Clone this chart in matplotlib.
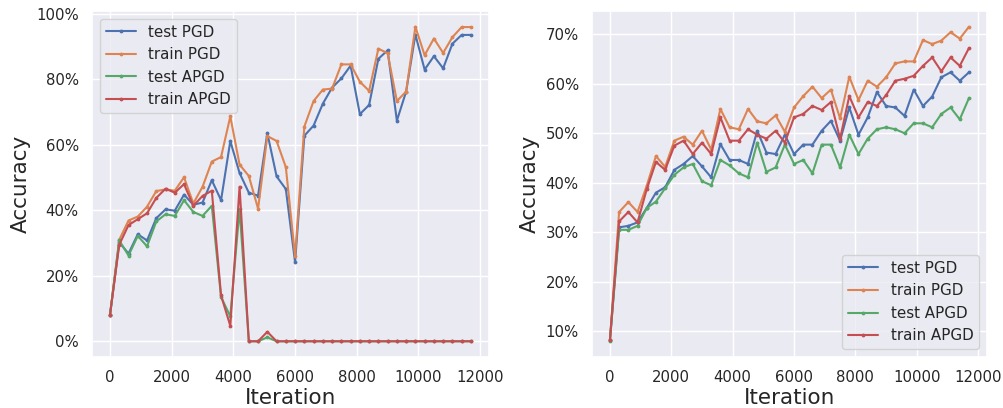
import matplotlib
matplotlib.use("Agg")
import matplotlib.pyplot as plt
import seaborn as sns
from matplotlib.ticker import PercentFormatter

iterations = list(range(0, 12000, 300))
labels = ["test PGD", "train PGD", "test APGD", "train APGD"]

# left panel (accuracy in %)
left_test_pgd = [8.1, 30.2, 26.8, 32.7, 30.8, 37.6, 40.3, 39.9, 44.8, 41.7, 42.4, 49.2, 43.1, 61.2, 51.4,
                 45.4, 44.5, 63.6, 50.4, 46.5, 24.1, 62.8, 65.9, 72.6, 77.5, 80.3, 84.2, 69.4, 72.2,
                 86.3, 88.9, 67.4, 76.3, 93.7, 83.0, 87.1, 83.4, 90.9, 93.6, 93.6]
left_train_pgd = [8.1, 31.0, 36.9, 38.1, 41.1, 45.9, 46.4, 46.0, 50.1, 42.1, 47.2, 54.9, 56.3, 68.7, 54.0,
                  50.5, 40.5, 62.7, 61.2, 53.2, 26.0, 65.6, 73.4, 76.9, 77.2, 84.6, 84.6, 79.3, 76.5,
                  89.4, 88.0, 73.4, 76.3, 96.1, 87.4, 92.5, 88.1, 92.9, 96.0, 96.0]
left_test_apgd = [8.1, 30.8, 26.2, 32.2, 29.0, 36.6, 38.8, 38.3, 43.1, 39.5, 38.3, 41.4, 13.5, 7.6, 40.4,
                  0, 0, 1.2, 0, 0, 0, 0, 0, 0, 0, 0, 0, 0, 0,
                  0, 0, 0, 0, 0, 0, 0, 0, 0, 0, 0]
left_train_apgd = [8.1, 29.5, 35.5, 37.3, 39.1, 43.8, 46.6, 45.4, 48.0, 41.4, 44.4, 46.0, 14.0, 4.7, 47.2,
                   0, 0, 2.9, 0, 0, 0, 0, 0, 0, 0, 0, 0, 0, 0,
                   0, 0, 0, 0, 0, 0, 0, 0, 0, 0, 0]

# right panel (accuracy in %)
right_test_pgd = [8.2, 31.0, 31.3, 32.0, 34.9, 38.0, 39.1, 42.6, 43.8, 45.4, 43.3, 41.1, 47.8, 44.6, 44.6,
                  43.8, 50.5, 46.1, 45.8, 49.7, 45.8, 47.7, 47.7, 50.5, 52.5, 48.5, 55.2, 49.7, 53.2,
                  58.3, 55.5, 55.2, 53.5, 58.8, 55.5, 57.4, 61.3, 62.3, 60.6, 62.3]
right_train_pgd = [8.2, 34.1, 36.1, 34.1, 39.4, 45.4, 43.2, 48.5, 49.3, 47.7, 50.5, 46.7, 54.9, 51.2, 50.8,
                   54.9, 52.4, 52.0, 53.6, 50.3, 55.2, 57.5, 59.4, 57.1, 58.8, 53.0, 61.4, 56.7, 60.6,
                   59.4, 61.3, 64.1, 64.5, 64.5, 68.8, 68.0, 68.7, 70.4, 69.1, 71.5]
right_test_apgd = [8.0, 30.5, 30.5, 31.3, 34.9, 36.2, 38.9, 41.6, 43.1, 43.8, 40.3, 39.5, 44.6, 43.5, 41.9,
                   41.1, 48.1, 42.2, 43.1, 47.7, 43.8, 44.6, 41.9, 47.7, 47.7, 43.1, 49.7, 45.8, 48.9,
                   50.8, 51.2, 50.8, 50.0, 52.0, 52.0, 51.2, 53.9, 55.2, 52.8, 57.1]
right_train_apgd = [8.2, 32.2, 34.1, 32.0, 38.7, 44.2, 42.6, 47.5, 48.5, 45.8, 48.1, 45.8, 53.2, 48.5, 48.5,
                    50.8, 49.7, 48.9, 50.5, 48.1, 53.2, 53.9, 55.5, 54.7, 56.3, 48.9, 57.5, 53.2, 56.3,
                    55.5, 57.7, 60.6, 61.0, 61.6, 63.6, 65.3, 62.5, 65.3, 63.6, 67.2]

sns.set_theme(style="darkgrid", palette="deep")
plt.rcParams["font.family"] = ["DejaVu Sans"]

fig = plt.figure(figsize=(10.04, 4.08), dpi=100)
ax1 = fig.add_axes([0.0916, 0.125, 0.3954, 0.848])
ax2 = fig.add_axes([0.5896, 0.125, 0.3934, 0.848])

panels = [
    (ax1, [left_test_pgd, left_train_pgd, left_test_apgd, left_train_apgd], "upper left"),
    (ax2, [right_test_pgd, right_train_pgd, right_test_apgd, right_train_apgd], "lower right"),
]

for ax, series, loc in panels:
    for vals, lab in zip(series, labels):
        ax.plot(iterations, vals, marker=".", markersize=3.5, linewidth=1.5, label=lab)
    ax.yaxis.set_major_formatter(PercentFormatter(100, decimals=0))
    ax.set_xlabel("Iteration", fontsize=15.5, labelpad=2)
    ax.set_ylabel("Accuracy", fontsize=15.5)
    ax.tick_params(labelsize=10.7)
    ax.legend(loc=loc, fontsize=10.9)

fig.savefig("out.png", dpi=100)
